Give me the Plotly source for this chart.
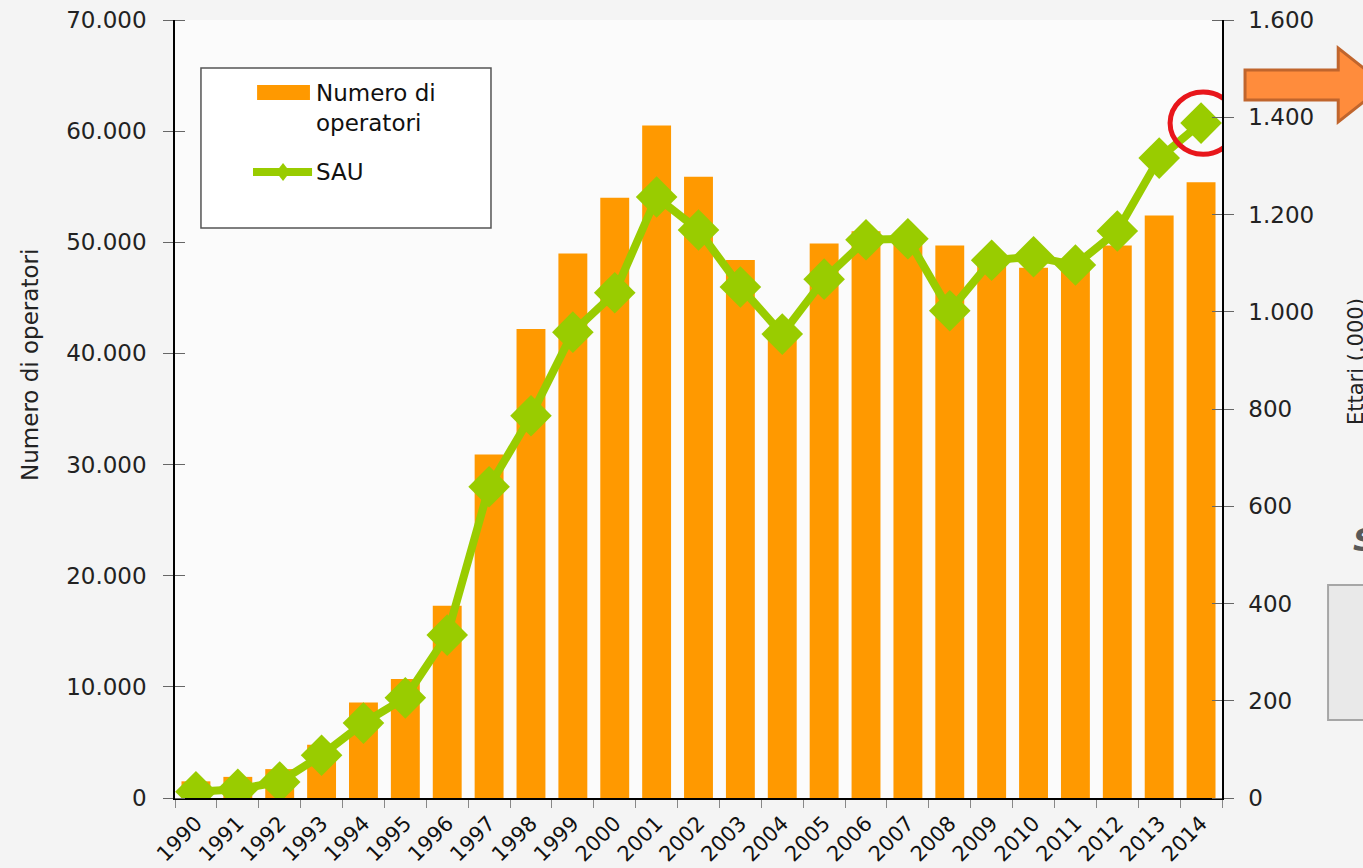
import plotly.graph_objects as go

# data
anni = [str(a) for a in range(1990, 2015)]
operatori = [1500, 1900, 2600, 4800, 8600, 10700, 17300, 30900, 42200, 49000,
             54000, 60500, 55900, 48400, 41300, 49900, 51000, 50300, 49700, 48400,
             47700, 48000, 49700, 52400, 55400]
sau = [13, 18, 33, 88, 154, 206, 335, 640, 786, 958,
       1039, 1236, 1168, 1051, 954, 1067, 1148, 1150, 1002, 1106,
       1113, 1096, 1166, 1316, 1388]

legenda = ["Numero di<br>operatori", "SAU"]

ARANCIO = "#FF9900"
VERDE = "#99CC00"
FONT = "DejaVu Sans"

fig = go.Figure()

fig.add_trace(go.Bar(
    x=anni, y=operatori,
    name=legenda[0].replace("<br>", " "),
    marker=dict(color=ARANCIO, line=dict(width=0)),
))

fig.add_trace(go.Scatter(
    x=anni, y=sau,
    name=legenda[1],
    yaxis="y2",
    mode="lines+markers",
    line=dict(color=VERDE, width=8),
    marker=dict(symbol="diamond", size=32, color=VERDE),
))

# hand-drawn legend box (wide swatches like the office chart), circle, arrow, slide bits
shapes = [
    # legend
    dict(type="rect", xref="paper", yref="paper",
         x0=0.0248, x1=0.3018, y0=0.7326, y1=0.9383,
         fillcolor="white", line=dict(color="#555555", width=1.5)),
    dict(type="rect", xref="paper", yref="paper",
         x0=0.0784, x1=0.1289, y0=0.8972, y1=0.9165,
         fillcolor=ARANCIO, line=dict(width=0)),
    dict(type="line", xref="paper", yref="paper",
         x0=0.0745, x1=0.1309, y0=0.8046, y1=0.8046,
         line=dict(color=VERDE, width=8)),
    dict(type="path", xref="paper", yref="paper",
         path="M 0.0965 0.8046 L 0.1032 0.8162 L 0.1099 0.8046 L 0.1032 0.7930 Z",
         fillcolor=VERDE, line=dict(width=0)),
    # red circle round the last point
    dict(type="circle", xref="x", yref="y2",
         x0=len(anni) - 1.74, x1=len(anni) - 0.16,
         y0=sau[-1] - 64, y1=sau[-1] + 64,
         line=dict(color="#E8161B", width=5)),
    # orange arrow
    dict(type="path", xref="paper", yref="paper",
         path="M 1.022 0.9357 L 1.111 0.9357 L 1.111 0.964 "
              "L 1.1557 0.9165 L 1.111 0.869 L 1.111 0.8972 L 1.022 0.8972 Z",
         fillcolor="#FF8C3C", line=dict(color="#C0652D", width=3)),
    # grey button on the slide
    dict(type="rect", xref="paper", yref="paper",
         x0=1.1013, x1=1.16, y0=0.1003, y1=0.2738,
         fillcolor="#E9E9E9", line=dict(color="#A6A6A6", width=2)),
]

annotations = [
    dict(text=legenda[0], xref="paper", yref="paper",
         x=0.1328, y=0.9254, xanchor="left", yanchor="top", align="left",
         showarrow=False, font=dict(family=FONT, size=23, color="#111111")),
    dict(text=legenda[1], xref="paper", yref="paper",
         x=0.1328, y=0.8046, xanchor="left", yanchor="middle",
         showarrow=False, font=dict(family=FONT, size=23, color="#111111")),
    dict(text="Numero di operatori", xref="paper", yref="paper",
         x=-0.1385, y=0.5566, xanchor="center", yanchor="middle",
         textangle=-90, showarrow=False,
         font=dict(family=FONT, size=23, color="#222222")),
    dict(text="Ettari (.000)", xref="paper", yref="paper",
         x=1.128, y=0.5604, xanchor="center", yanchor="middle",
         textangle=-90, showarrow=False,
         font=dict(family=FONT, size=21, color="#222222")),
    dict(text="<b><i>S</i></b>", xref="paper", yref="paper",
         x=1.123, y=0.3316, showarrow=False, xanchor="left", yanchor="middle",
         font=dict(family=FONT, size=32, color="#595959")),
]

fig.update_layout(
    width=1363, height=868,
    margin=dict(l=175, r=141, t=20, b=70, autoexpand=False),
    paper_bgcolor="#f4f4f4",
    plot_bgcolor="#fbfbfb",
    separators=",.",
    bargap=0.31,
    font=dict(family=FONT, size=22, color="#222222"),
    showlegend=False,
    xaxis=dict(
        type="category", range=[-0.5, len(anni) - 0.5],
        tickangle=-45, tickson="boundaries",
        showline=True, linecolor="black", linewidth=1.5,
        ticks="outside", ticklen=8, tickcolor="#888888",
        ticklabelstandoff=3,
        tickfont=dict(family=FONT, size=21, color="#111111"),
        showgrid=False, automargin=False,
    ),
    yaxis=dict(
        range=[0, 70000], dtick=10000, tickformat=",d",
        showline=True, linecolor="black", linewidth=1.5,
        ticks="outside", ticklen=10, tickcolor="#666666",
        minor=dict(ticks="inside", dtick=10000, ticklen=10, tickcolor="#666666"),
        ticklabelstandoff=12, ticklabeloverflow="allow",
        tickfont=dict(family=FONT, size=23, color="#222222"),
        showgrid=False, zeroline=False, automargin=False,
    ),
    yaxis2=dict(
        overlaying="y", side="right",
        range=[0, 1600], dtick=200, tickformat=",d",
        showline=True, linecolor="black", linewidth=1.5,
        ticks="outside", ticklen=10, tickcolor="#666666",
        minor=dict(ticks="inside", dtick=200, ticklen=10, tickcolor="#666666"),
        ticklabelstandoff=10, ticklabeloverflow="allow",
        tickfont=dict(family=FONT, size=23, color="#222222"),
        showgrid=False, zeroline=False, automargin=False,
    ),
    shapes=shapes,
    annotations=annotations,
)

# the page body has an 8px default margin; drop it so the figure fills the window
fig.write_html("out.html", config={"displayModeBar": False},
               post_script="document.body.style.margin='0';")
